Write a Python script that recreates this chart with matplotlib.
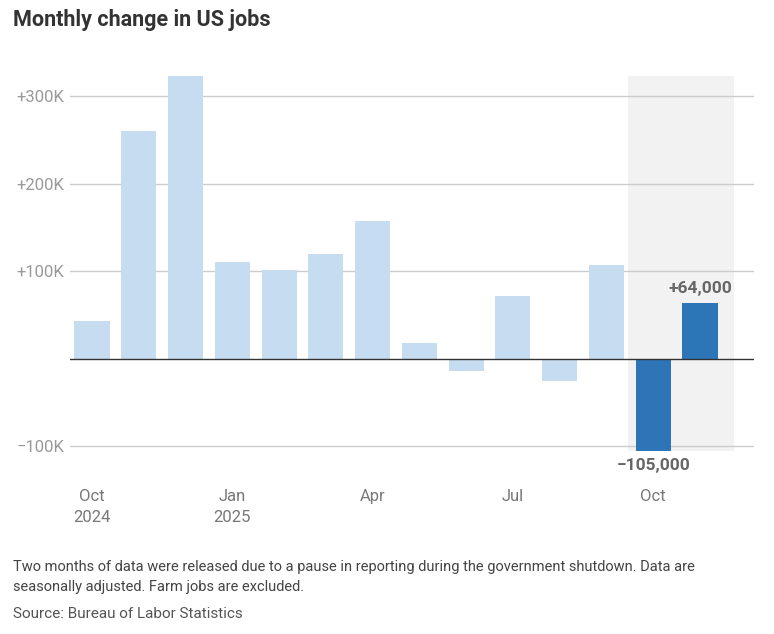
import matplotlib
matplotlib.use("Agg")
import matplotlib.pyplot as plt

plt.rcParams['font.family'] = ['Roboto', 'DejaVu Sans']

# monthly change in payrolls, thousands (Oct 2024 .. Nov 2025)
months = ["Oct", "Nov", "Dec", "Jan", "Feb", "Mar", "Apr",
          "May", "Jun", "Jul", "Aug", "Sep", "Oct", "Nov"]
values = [43, 261, 323, 111, 102, 120, 158, 18, -14, 72, -25, 107, -105, 64]
highlight = [False] * 12 + [True, True]
tick_idx = [0, 3, 6, 9, 12]
tick_labels = ["Oct\n2024", "Jan\n2025", "Apr", "Jul", "Oct"]
y_ticks = [-100, 100, 200, 300]
y_labels = ["\u2212100K", "+100K", "+200K", "+300K"]

light = "#c6dcf0"
dark = "#2e75b8"

fig = plt.figure(figsize=(7.74, 6.34), dpi=100)
ax = fig.add_axes([70/774, 1 - 470/634, 684/774, 410/634])

x = list(range(len(values)))
# shaded band for the two months released together
ax.fill_between([11.46, 13.73], min(values), max(values), color="#f2f2f2", lw=0, zorder=0)

for yt in y_ticks:
    ax.axhline(yt, color="#cccccc", lw=1, zorder=1)
ax.axhline(0, color="#333333", lw=1, zorder=3)

ax.bar(x, values, width=0.75,
       color=[dark if h else light for h in highlight], zorder=2)

ax.text(13, values[13] + 8, "+64,000", ha="center", va="bottom",
        fontsize=12.5, fontweight="bold", color="#666666")
ax.text(12, values[12] - 8, "\u2212105,000", ha="center", va="top",
        fontsize=12.5, fontweight="bold", color="#666666")

ax.set_xlim(-0.47, 14.155)
ax.set_ylim(-126.9, 341.7)
ax.set_yticks(y_ticks)
ax.set_yticklabels(y_labels, fontsize=12, color="#999999")
ax.set_xticks(tick_idx)
ax.set_xticklabels(tick_labels, fontsize=12, color="#777777", linespacing=1.5)
ax.tick_params(length=0)
ax.tick_params(axis="y", pad=4)
ax.tick_params(axis="x", pad=14)
for s in ax.spines.values():
    s.set_visible(False)

fig.text(13/774, 1 - 20/634, "Monthly change in US jobs", fontsize=15.5,
         fontweight="bold", color="#333333", va="center")
fig.text(13/774, 1 - 577/634,
         "Two months of data were released due to a pause in reporting during the government shutdown. Data are\n"
         "seasonally adjusted. Farm jobs are excluded.",
         fontsize=10.5, color="#444444", va="center", linespacing=1.6)
fig.text(13/774, 1 - 614/634, "Source: Bureau of Labor Statistics", fontsize=11,
         color="#555555", va="center")

fig.savefig("out.png", dpi=100)
